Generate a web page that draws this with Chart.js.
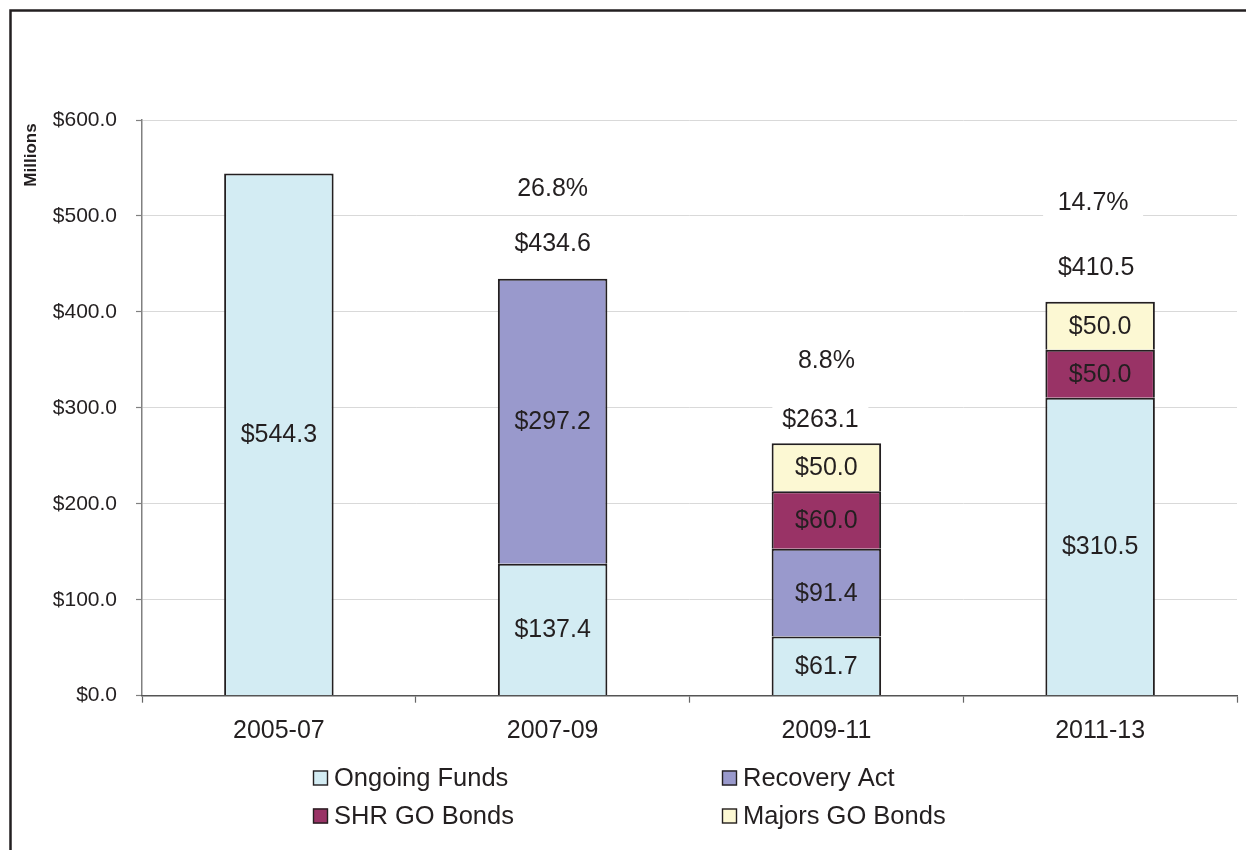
<!DOCTYPE html>
<html>
<head>
<meta charset="utf-8">
<script src="https://cdn.jsdelivr.net/npm/chart.js@4/dist/chart.umd.min.js"></script>
<style>
  html, body { margin: 0; padding: 0; background: #fff; }
  #wrap { width: 1246px; height: 850px; }
</style>
</head>
<body>
<div id="wrap"><canvas id="chart" width="1246" height="850"></canvas></div>
<script>
const categories = ['2005-07', '2007-09', '2009-11', '2011-13'];
const ongoingFunds = [544.3, 137.4, 61.7, 310.5];
const recoveryAct = [null, 297.2, 91.4, null];
const shrBonds = [null, null, 60.0, 50.0];
const majorsBonds = [null, null, 50.0, 50.0];
const totals = [null, 434.6, 263.1, 410.5];
const pctLabels = ['', '26.8%', '8.8%', '14.7%'];
const yTicks = [0, 100, 200, 300, 400, 500, 600];

const FONT = "'Liberation Sans', Arial, Helvetica, sans-serif";
const INK = '#231f20';

// offsets of the free text boxes above each stack (px)
const totalOffset = [0, 35, 23, 34];
const totalShift = [0, 0, -6, -4];
const pctOffset = [0, 90, 82, 99];
const pctShift = [0, 0, 0, -7];

const money = v => '$' + Number(v).toFixed(1);

const framePlugin = {
  id: 'frame',
  beforeDraw(chart) {
    const ctx = chart.ctx;
    ctx.save();
    ctx.fillStyle = '#fff';
    ctx.fillRect(0, 0, chart.width, chart.height);
    ctx.strokeStyle = INK;
    ctx.lineWidth = 2.5;
    ctx.beginPath();
    ctx.moveTo(10.5, chart.height);
    ctx.lineTo(10.5, 10.5);
    ctx.lineTo(chart.width, 10.5);
    ctx.stroke();
    // axis title
    ctx.translate(31, 155);
    ctx.rotate(-Math.PI / 2);
    ctx.fillStyle = INK;
    ctx.font = 'bold 17px ' + FONT;
    ctx.textAlign = 'center';
    ctx.textBaseline = 'middle';
    ctx.fillText('Millions', 0, 0);
    ctx.restore();
  }
};

const labelPlugin = {
  id: 'barLabels',
  afterDatasetsDraw(chart) {
    const ctx = chart.ctx;
    const y = chart.scales.y;
    ctx.save();
    ctx.font = '25px ' + FONT;
    ctx.fillStyle = INK;
    ctx.textAlign = 'center';
    ctx.textBaseline = 'middle';
    chart.data.datasets.forEach((ds, di) => {
      chart.getDatasetMeta(di).data.forEach((bar, i) => {
        const v = ds.data[i];
        if (v == null) return;
        ctx.fillText(money(v), bar.x, (bar.y + bar.base) / 2 + 1);
      });
    });
    const xMeta = chart.getDatasetMeta(0).data;
    totals.forEach((t, i) => {
      if (t == null) return;
      const top = y.getPixelForValue(t);
      const cx = xMeta[i].x;
      const ty = top - totalOffset[i];
      const py = top - pctOffset[i];
      ctx.fillStyle = '#fff';
      ctx.fillRect(cx + totalShift[i] - 48, ty - 15, 96, 30);
      ctx.fillRect(cx + pctShift[i] - 50, py - 15, 100, 30);
      ctx.fillStyle = INK;
      ctx.fillText(money(t), cx + totalShift[i], ty);
      ctx.fillText(pctLabels[i], cx + pctShift[i], py);
    });
    ctx.restore();
  }
};

const legendPlugin = {
  id: 'gridLegend',
  afterDraw(chart) {
    const ctx = chart.ctx;
    const cols = [313, 722];
    const rows = [778, 816];
    ctx.save();
    ctx.font = '25.5px ' + FONT;
    ctx.textBaseline = 'middle';
    ctx.textAlign = 'left';
    chart.data.datasets.forEach((ds, i) => {
      const x = cols[i % 2];
      const yy = rows[Math.floor(i / 2)];
      ctx.fillStyle = ds.backgroundColor;
      ctx.fillRect(x, yy - 7.5, 15, 15);
      ctx.strokeStyle = INK;
      ctx.lineWidth = 1.4;
      ctx.strokeRect(x + 0.5, yy - 7, 14, 14);
      ctx.fillStyle = INK;
      ctx.fillText(ds.label, x + 21, yy + 1);
    });
    ctx.restore();
  }
};

const barStyle = { borderColor: INK, borderWidth: 2, borderSkipped: 'start', barPercentage: 0.4, categoryPercentage: 1 };

new Chart(document.getElementById('chart'), {
  type: 'bar',
  data: {
    labels: categories,
    datasets: [
      { label: 'Ongoing Funds', data: ongoingFunds, backgroundColor: '#d3ecf3', ...barStyle },
      { label: 'Recovery Act', data: recoveryAct, backgroundColor: '#9999cc', ...barStyle },
      { label: 'SHR GO Bonds', data: shrBonds, backgroundColor: '#993366', ...barStyle },
      { label: 'Majors GO Bonds', data: majorsBonds, backgroundColor: '#fcf8d3', ...barStyle }
    ]
  },
  options: {
    responsive: false,
    animation: false,
    devicePixelRatio: 1,
    layout: { padding: { top: 120, right: 9, bottom: 0, left: 0 } },
    plugins: { legend: { display: false }, tooltip: { enabled: false } },
    scales: {
      x: {
        stacked: true,
        afterFit(scale) { scale.height = 154.3; },
        grid: { offset: true, drawOnChartArea: false, drawTicks: true, tickLength: 7, tickColor: '#666', tickWidth: 1.2 },
        border: { color: '#555', width: 1.5, z: 1 },
        ticks: { color: INK, font: { family: FONT, size: 25 }, padding: 13 }
      },
      y: {
        stacked: true,
        min: 0,
        max: 600,
        afterFit(scale) { scale.width = 142; },
        afterBuildTicks(scale) { scale.ticks = yTicks.map(v => ({ value: v })); },
        grid: { color: '#d9d9d9', lineWidth: 1, tickColor: '#808080', tickLength: 6, tickWidth: 1.2 },
        border: { color: '#808080', width: 1.5 },
        ticks: { color: INK, font: { family: FONT, size: 21 }, padding: 19, callback: v => money(v) }
      }
    }
  },
  plugins: [framePlugin, labelPlugin, legendPlugin]
});
</script>
</body>
</html>
